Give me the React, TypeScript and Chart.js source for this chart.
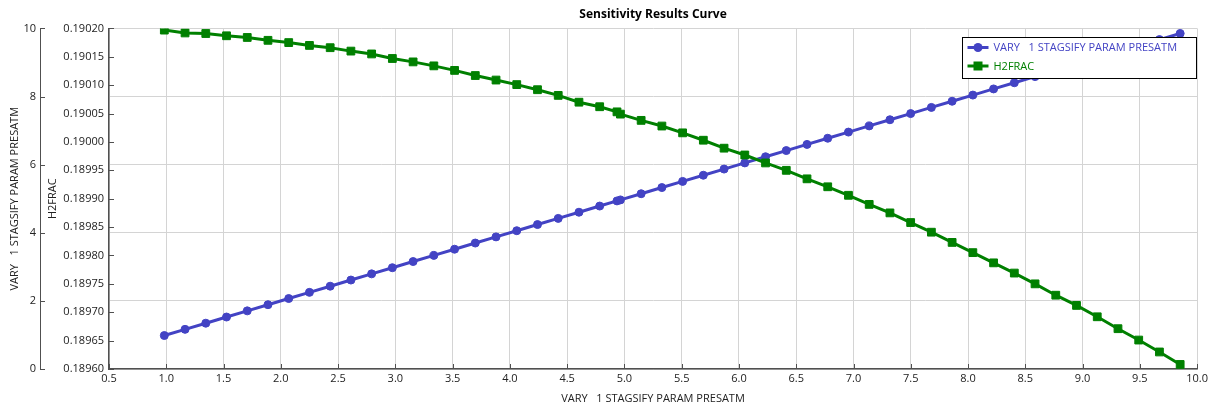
import React, { useEffect, useRef } from 'react';
import { Chart, registerables } from 'chart.js';

Chart.register(...registerables);

const chartTitle = 'Sensitivity Results Curve';
const xTitle = 'VARY   1 STAGSIFY PARAM PRESATM';
const seriesNames = ['VARY   1 STAGSIFY PARAM PRESATM', 'H2FRAC'];

const xValues = [
  0.983, 1.164, 1.345, 1.526, 1.707, 1.888, 2.069, 2.25, 2.431, 2.612,
  2.793, 2.974, 3.155, 3.336, 3.517, 3.698, 3.879, 4.06, 4.241, 4.422,
  4.603, 4.784, 4.935, 4.965, 5.146, 5.327, 5.508, 5.689, 5.87, 6.051,
  6.232, 6.413, 6.594, 6.775, 6.956, 7.137, 7.318, 7.499, 7.68, 7.861,
  8.042, 8.223, 8.404, 8.585, 8.766, 8.947, 9.128, 9.309, 9.49, 9.671,
  9.852,
];

const varyValues = [
  0.983, 1.164, 1.345, 1.526, 1.707, 1.888, 2.069, 2.25, 2.431, 2.612,
  2.793, 2.974, 3.155, 3.336, 3.517, 3.698, 3.879, 4.06, 4.241, 4.422,
  4.603, 4.784, 4.935, 4.965, 5.146, 5.327, 5.508, 5.689, 5.87, 6.051,
  6.232, 6.413, 6.594, 6.775, 6.956, 7.137, 7.318, 7.499, 7.68, 7.861,
  8.042, 8.223, 8.404, 8.585, 8.766, 8.947, 9.128, 9.309, 9.49, 9.671,
  9.852,
];

const h2fracValues = [
  0.190197, 0.190192, 0.190191, 0.190187, 0.190184, 0.190179, 0.190175, 0.19017, 0.190166, 0.19016,
  0.190155, 0.190147, 0.190141, 0.190134, 0.190126, 0.190117, 0.190109, 0.190101, 0.190092, 0.190082,
  0.19007, 0.190062, 0.190053, 0.190049, 0.190038, 0.190028, 0.190016, 0.190003, 0.189989, 0.189977,
  0.189963, 0.18995, 0.189935, 0.189921, 0.189906, 0.18989, 0.189875, 0.189858, 0.189841, 0.189823,
  0.189805, 0.189787, 0.189769, 0.18975, 0.18973, 0.189712, 0.189692, 0.189671, 0.189651, 0.18963,
  0.189608,
];

const xTicks = [0.5, 1, 1.5, 2, 2.5, 3, 3.5, 4, 4.5, 5, 5.5, 6, 6.5, 7, 7.5, 8, 8.5, 9, 9.5, 10];
const yTicks = [0, 2, 4, 6, 8, 10];
const y1Ticks = [0.1896, 0.18965, 0.1897, 0.18975, 0.1898, 0.18985, 0.1899, 0.18995, 0.19, 0.19005, 0.1901, 0.19015, 0.1902];

const FONT = "'Open Sans', 'Noto Sans', sans-serif";
const BLUE = '#4343c4';
const GREEN = '#008000';
const GRID = '#d4d4d4';
const AXIS = '#505050';
const TEXT = '#222222';

const tickMarks = {
  id: 'tickMarks',
  afterDraw(chart: any) {
    const ctx = chart.ctx;
    ctx.save();
    ctx.strokeStyle = AXIS;
    ctx.lineWidth = 1;
    ctx.beginPath();
    const sx = chart.scales.x;
    sx.ticks.forEach((_t: any, i: number) => {
      const px = Math.round(sx.getPixelForTick(i)) + 0.5;
      ctx.moveTo(px, sx.top);
      ctx.lineTo(px, sx.top - 5);
    });
    for (const id of ['y', 'y1']) {
      const s = chart.scales[id];
      s.ticks.forEach((_t: any, i: number) => {
        const py = Math.round(s.getPixelForTick(i)) + 0.5;
        ctx.moveTo(s.right, py);
        ctx.lineTo(s.right + 5, py);
      });
    }
    ctx.stroke();
    ctx.restore();
  },
};

const legendBox = {
  id: 'legendBox',
  afterDraw(chart: any) {
    const ctx = chart.ctx;
    const area = chart.chartArea;
    const w = 234;
    const h = 41;
    const left = Math.round(area.right - 1 - w) + 0.5;
    const top = Math.round(area.top + 9) + 0.5;
    ctx.save();
    ctx.fillStyle = '#ffffff';
    ctx.fillRect(left, top, w, h);
    ctx.strokeStyle = '#000000';
    ctx.lineWidth = 1;
    ctx.strokeRect(left, top, w, h);
    ctx.font = `11px ${FONT}`;
    ctx.textBaseline = 'middle';
    ctx.textAlign = 'left';
    chart.data.datasets.forEach((ds: any, i: number) => {
      const cy = top + 10 + i * 18.5;
      const color = ds.borderColor;
      ctx.strokeStyle = color;
      ctx.fillStyle = color;
      ctx.lineWidth = 3;
      ctx.beginPath();
      ctx.moveTo(left + 5, cy);
      ctx.lineTo(left + 26, cy);
      ctx.stroke();
      const mx = left + 15.5;
      if (ds.pointStyle === 'rect') {
        ctx.fillRect(mx - 4.5, cy - 4.5, 9, 9);
      } else {
        ctx.beginPath();
        ctx.arc(mx, cy, 4.5, 0, Math.PI * 2);
        ctx.fill();
      }
      ctx.fillText(ds.label, left + 31, cy + 0.5);
    });
    ctx.restore();
  },
};

export default function App() {
  const ref = useRef<HTMLCanvasElement>(null);
  useEffect(() => {
    document.body.style.margin = '0';
    const canvas = ref.current;
    if (!canvas) return;
    const tickFont = { family: FONT, size: 11 };
    const chart = new Chart(canvas, {
      type: 'line',
      data: {
        datasets: [
          {
            label: seriesNames[0],
            data: xValues.map((x, i) => ({ x, y: varyValues[i] })),
            yAxisID: 'y',
            borderColor: BLUE,
            backgroundColor: BLUE,
            borderWidth: 3,
            pointStyle: 'circle',
            pointRadius: 4,
            pointBorderWidth: 1,
            tension: 0,
            order: 1,
          },
          {
            label: seriesNames[1],
            data: xValues.map((x, i) => ({ x, y: h2fracValues[i] })),
            yAxisID: 'y1',
            borderColor: GREEN,
            backgroundColor: GREEN,
            borderWidth: 3,
            pointStyle: 'rect',
            pointRadius: 5.5,
            pointBorderWidth: 1,
            tension: 0,
            order: 0,
          },
        ],
      },
      options: {
        animation: false,
        responsive: false,
        devicePixelRatio: 1,
        layout: { padding: { left: 0, right: 13, top: 0, bottom: 0 } },
        plugins: {
          legend: { display: false },
          tooltip: { enabled: false },
          title: {
            display: true,
            text: chartTitle,
            fullSize: false,
            color: '#000',
            font: { family: FONT, size: 12, weight: 'bold' },
            padding: { top: 7, bottom: 7 },
          },
        },
        scales: {
          x: {
            type: 'linear',
            min: 0.5,
            max: 10,
            afterBuildTicks: (s: any) => { s.ticks = xTicks.map((v) => ({ value: v })); },
            afterFit: (s: any) => { s.height = 38; },
            ticks: {
              callback: (v: any) => Number(v).toFixed(1),
              font: tickFont,
              color: TEXT,
              padding: 3,
              maxRotation: 0,
              autoSkip: false,
            },
            grid: { color: GRID, drawTicks: false },
            border: { color: AXIS, width: 1.5 },
            title: { display: true, text: xTitle, font: tickFont, color: TEXT, padding: { top: 2, bottom: 2 } },
          },
          y: {
            type: 'linear',
            position: 'left',
            weight: 2,
            min: 0,
            max: 10,
            afterBuildTicks: (s: any) => { s.ticks = yTicks.map((v) => ({ value: v })); },
            afterFit: (s: any) => { s.width = 40; },
            ticks: { callback: (v: any) => String(v), font: tickFont, color: TEXT, padding: 4 },
            grid: { color: GRID, drawTicks: false },
            border: { color: AXIS, width: 1 },
            title: { display: true, text: seriesNames[0], font: tickFont, color: TEXT, padding: { top: 8, bottom: 0 } },
          },
          y1: {
            type: 'linear',
            position: 'left',
            weight: 1,
            min: 0.1896,
            max: 0.1902,
            afterBuildTicks: (s: any) => { s.ticks = y1Ticks.map((v) => ({ value: v })); },
            afterFit: (s: any) => { s.width = 69; },
            ticks: { callback: (v: any) => Number(v).toFixed(5), font: tickFont, color: TEXT, padding: 5 },
            grid: { drawOnChartArea: false, drawTicks: false, color: GRID },
            border: { color: AXIS, width: 1.5 },
            title: { display: true, text: seriesNames[1], font: tickFont, color: TEXT, padding: { top: 6, bottom: 0 } },
          },
        },
      } as any,
      plugins: [tickMarks, legendBox],
    });
    return () => chart.destroy();
  }, []);
  return (
    <div style={{ width: 1211, height: 407, position: 'relative' }}>
      <canvas ref={ref} width={1211} height={407} style={{ display: 'block' }} />
    </div>
  );
}
